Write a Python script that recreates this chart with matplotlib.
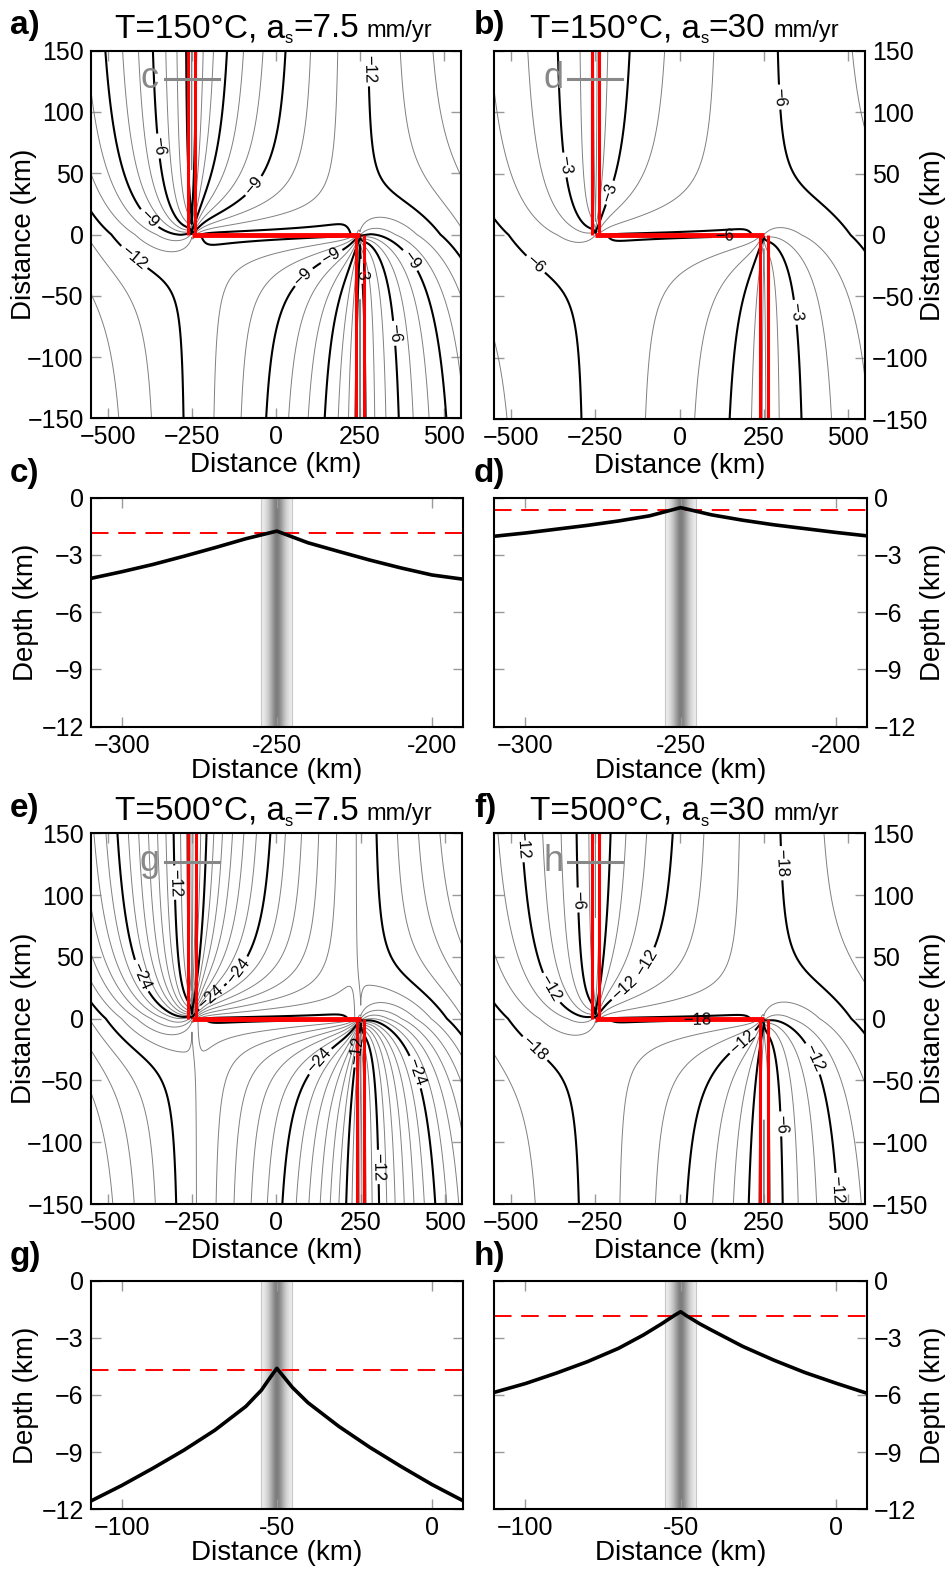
import numpy as np
import matplotlib
matplotlib.use('Agg')
import matplotlib.pyplot as plt

plt.rcParams['font.family'] = ['Liberation Sans', 'DejaVu Sans']
plt.rcParams['axes.unicode_minus'] = True
plt.rcParams['contour.negative_linestyle'] = 'solid'

W, H = 949, 1569

# map panels: isotherm temperature, half spreading rate
map_letters = ['a)', 'b)', 'e)', 'f)']
map_temps = ['150', '150', '500', '500']
map_rates = ['7.5', '30', '7.5', '30']
profile_marks = ['c', 'd', 'g', 'h']

# ridge-transform-ridge geometry (km)
ridge_x = [-250, 250]
ridge_gap = 11

# isotherm depth vs distance from ridge: z = z0 - k * d**p
ridge_depth = [-1.8, -0.5, -4.6, -1.8]
depth_coef = [0.16, 0.163, 0.438, 0.29]
depth_pow = [0.665, 0.561, 0.68, 0.64]
minor_step = [1, 1, 2, 2]
major_step = [3, 3, 12, 6]

# lateral conduction across the fault
fault_age = 550      # plate distance whose depth the active transform takes
frac_out = 0.4       # share of the young plate in the fracture-zone value
width_in = 0.1
width_out = 0.18

# where the contour labels sit on each map
label_spots = [
    [(290, 135), (-392, 71), (-380, 12), (-37, 33), (-440, -25), (52, -26), (170, -20),
     (255, -30), (431, -15), (377, -80)],
    [(-397, 55), (-135, 28), (-402, -16), (279, 112), (136, -23), (373, -62)],
    [(-319, 110), (-432, 31), (-210, 23), (-77, 31), (91, -25), (219, -25), (436, -41), (303, -120)],
    [(-490, 140), (-304, 96), (-181, 30), (-29, 34), (-426, 18), (319, 126), (-412, -19),
     (54, -22), (196, -22), (319, -85), (441, -27), (505, -138)],
]

# profile panels (depth of isotherm across the ridge axis)
prof_letters = ['c)', 'd)', 'g)', 'h)']
prof_c_x = [-310, -300, -290, -280, -270, -260, -250, -240, -230, -220, -210, -200, -190]
prof_c_z = [-4.23, -3.88, -3.50, -3.07, -2.62, -2.15, -1.75, -2.36, -2.82, -3.27, -3.68, -4.05, -4.27]
prof_d_x = [-310, -300, -290, -280, -270, -260, -250, -240, -230, -220, -210, -200, -190]
prof_d_z = [-2.02, -1.85, -1.65, -1.45, -1.22, -0.95, -0.52, -0.90, -1.18, -1.42, -1.62, -1.82, -2.00]
prof_g_x = [-110, -100, -90, -80, -70, -60, -55, -52, -50, -48, -45, -40, -30, -20, -10, 0, 10]
prof_g_z = [-11.57, -10.75, -9.85, -8.9, -7.85, -6.6, -5.75, -5.05, -4.6, -5.0, -5.6, -6.4,
            -7.65, -8.75, -9.75, -10.7, -11.55]
prof_h_x = [-110, -100, -90, -80, -70, -62, -56, -52, -50, -48, -44, -40, -30, -20, -10, 0, 10]
prof_h_z = [-5.86, -5.4, -4.85, -4.25, -3.55, -2.85, -2.25, -1.82, -1.63, -1.85, -2.25, -2.6,
            -3.45, -4.17, -4.82, -5.38, -5.91]
prof_ref = [-1.83, -0.62, -4.7, -1.87]
prof_axis = [-250, -250, -50, -50]
band_shades = [0.93, 0.88, 0.8, 0.68, 0.55, 0.46, 0.55, 0.68, 0.8, 0.88, 0.93]

fig = plt.figure(figsize=(W / 100, H / 100), dpi=100)


def px_axes(x0, y0, x1, y1):
    return fig.add_axes([x0 / W, 1 - y1 / H, (x1 - x0) / W, (y1 - y0) / H])


def style_axes(ax, right, label_x):
    for s in ax.spines.values():
        s.set_linewidth(1.5)
    ax.tick_params(direction='in', length=7, width=1, color='#999999',
                   top=True, bottom=True, left=True, right=True,
                   labelleft=not right, labelright=right, labelsize=18, pad=5)
    if right:
        ax.yaxis.set_label_position('right')
    ax.yaxis.set_label_coords(label_x, 0.5)


def minus(v):
    return ('%d' % v).replace('-', '\u2212')


def plate_depth(d, i):
    return ridge_depth[i] - depth_coef[i] * d ** depth_pow[i]


def isotherm_depth(X, Y, i):
    dt = np.abs(X - ridge_x[0])
    db = np.abs(X - ridge_x[1])
    zt = plate_depth(dt, i)
    zb = plate_depth(db, i)
    z_old = np.minimum(zt, zb)
    z_young = np.maximum(zt, zb)
    half = (ridge_x[1] - ridge_x[0]) / 2
    inside = 0.5 * (1 - np.tanh((np.abs(X) - half) / 25))
    # value on the fault: cold along the active transform, mixed along the fracture zone
    z_fault = inside * plate_depth(fault_age, i) + (1 - inside) * (z_old + frac_out * (z_young - z_old))
    z_self = np.where(Y >= 0, zt, zb)
    tip = np.minimum(dt, db)
    L = 2 + inside * width_in * np.sqrt(dt * db) + (1 - inside) * width_out * tip
    s = 1 - 2 / np.pi * np.arctan(np.abs(Y) / L)
    return z_self + (z_fault - z_self) * s


map_boxes = [(90.7, 50.7, 461, 418.3), (494.3, 50.7, 865, 419.3),
             (90.7, 833.3, 462, 1204), (494.3, 833.3, 865, 1204)]
prof_boxes = [(90.7, 497.7, 463, 726.7), (494.3, 497.7, 867, 726.7),
              (90.7, 1280.7, 463, 1509.3), (494.3, 1280.7, 867, 1509.3)]

xg = np.linspace(-550, 550, 1101)
yg = np.linspace(-150, 150, 601)
X, Y = np.meshgrid(xg, yg)

renderer = fig.canvas.get_renderer()

for i in range(4):
    box = map_boxes[i]
    ax = px_axes(*box)
    right = i % 2 == 1
    ax.set_xlim(-550, 550)
    ax.set_ylim(-150, 150)
    Z = isotherm_depth(X, Y, i)
    lo = np.floor(Z.min() / minor_step[i]) * minor_step[i]
    levels = np.arange(lo, 0, minor_step[i])
    minor = [v for v in levels if v % major_step[i] != 0]
    major = [v for v in levels if v % major_step[i] == 0]
    ax.contour(X, Y, Z, levels=minor, colors='#808080', linewidths=0.7)
    cs = ax.contour(X, Y, Z, levels=major, colors='black', linewidths=1.5)
    ax.clabel(cs, fmt=minus, fontsize=12, inline=True, inline_spacing=3, manual=label_spots[i])

    # ridge segments and transform fault
    for xr, y_end in zip(ridge_x, [150, -150]):
        for side in (-1, 1):
            ax.plot([xr + side * ridge_gap] * 2, [0, y_end], color='red', lw=2.2, solid_capstyle='butt')
    ax.plot(ridge_x, [0, 0], color='red', lw=3.5, solid_capstyle='butt')

    # trace of the profile panel
    ax.plot([-330, -170], [127, 127], color='#888888', lw=2.2)
    ax.text(-375, 127, profile_marks[i], color='#888888', fontsize=26, ha='center', va='center')

    ax.set_xticks([-500, -250, 0, 250, 500])
    ax.set_yticks([-150, -100, -50, 0, 50, 100, 150])
    ax.set_xticklabels([minus(v) for v in [-500, -250, 0, 250, 500]])
    ax.set_yticklabels([minus(v) for v in [-150, -100, -50, 0, 50, 100, 150]])
    lab_px = 24 if not right else 933
    style_axes(ax, right, (lab_px - box[0]) / (box[2] - box[0]))
    ax.set_xlabel('Distance (km)', fontsize=20, labelpad=2)
    ax.set_ylabel('Distance (km)', fontsize=20, va='center')

    # title: T=...°C, a_s=... mm/yr
    base = box[1] - 13.7
    fig.text((10 if not right else 474) / W, 1 - (base - 3) / H, map_letters[i],
             fontsize=24, fontweight='bold', va='baseline')
    xp = box[0] + (24 if not right else 36)
    for txt, size, dy in [('T=%s\u00b0C, a' % map_temps[i], 24, 0), ('s', 12, 6),
                          ('=%s' % map_rates[i], 24, 0), ('mm/yr', 17, 0)]:
        if txt == 'mm/yr':
            xp += 8
        t = fig.text(xp / W, 1 - (base + dy) / H, txt, fontsize=size, va='baseline')
        xp += t.get_window_extent(renderer).width

prof_xs = [prof_c_x, prof_d_x, prof_g_x, prof_h_x]
prof_zs = [prof_c_z, prof_d_z, prof_g_z, prof_h_z]
for i in range(4):
    box = prof_boxes[i]
    ax = px_axes(*box)
    right = i % 2 == 1
    c = prof_axis[i]
    shade = np.array(band_shades)[None, :]
    ax.imshow(shade, cmap='gray', vmin=0, vmax=1, aspect='auto', interpolation='bicubic',
              extent=[c - 5, c + 5, -12, 0], zorder=0)
    for e in (c - 5, c + 5):
        ax.axvline(e, color='#c8c8c8', lw=0.8, zorder=1)
    ax.axhline(prof_ref[i], color='red', lw=1.4, dashes=(9, 5), zorder=2)
    ax.plot(prof_xs[i], prof_zs[i], color='black', lw=2.6, zorder=3)
    ax.set_xlim(c - 60, c + 60)
    ax.set_ylim(-12, 0)
    ticks = [c - 50, c, c + 50]
    ax.set_xticks(ticks)
    ax.set_xticklabels([minus(ticks[0]), '%d' % ticks[1], '%d' % ticks[2]])
    ax.set_yticks([-12, -9, -6, -3, 0])
    ax.set_yticklabels([minus(v) for v in [-12, -9, -6, -3, 0]])
    lab_px = 26 if not right else 933
    style_axes(ax, right, (lab_px - box[0]) / (box[2] - box[0]))
    ax.set_xlabel('Distance (km)', fontsize=20, labelpad=0)
    ax.set_ylabel('Depth (km)', fontsize=20, va='center')
    lx = 10 if not right else 474
    fig.text(lx / W, 1 - (box[1] - 16) / H, prof_letters[i],
             fontsize=24, fontweight='bold', va='baseline')

fig.savefig('out.png', dpi=100)
